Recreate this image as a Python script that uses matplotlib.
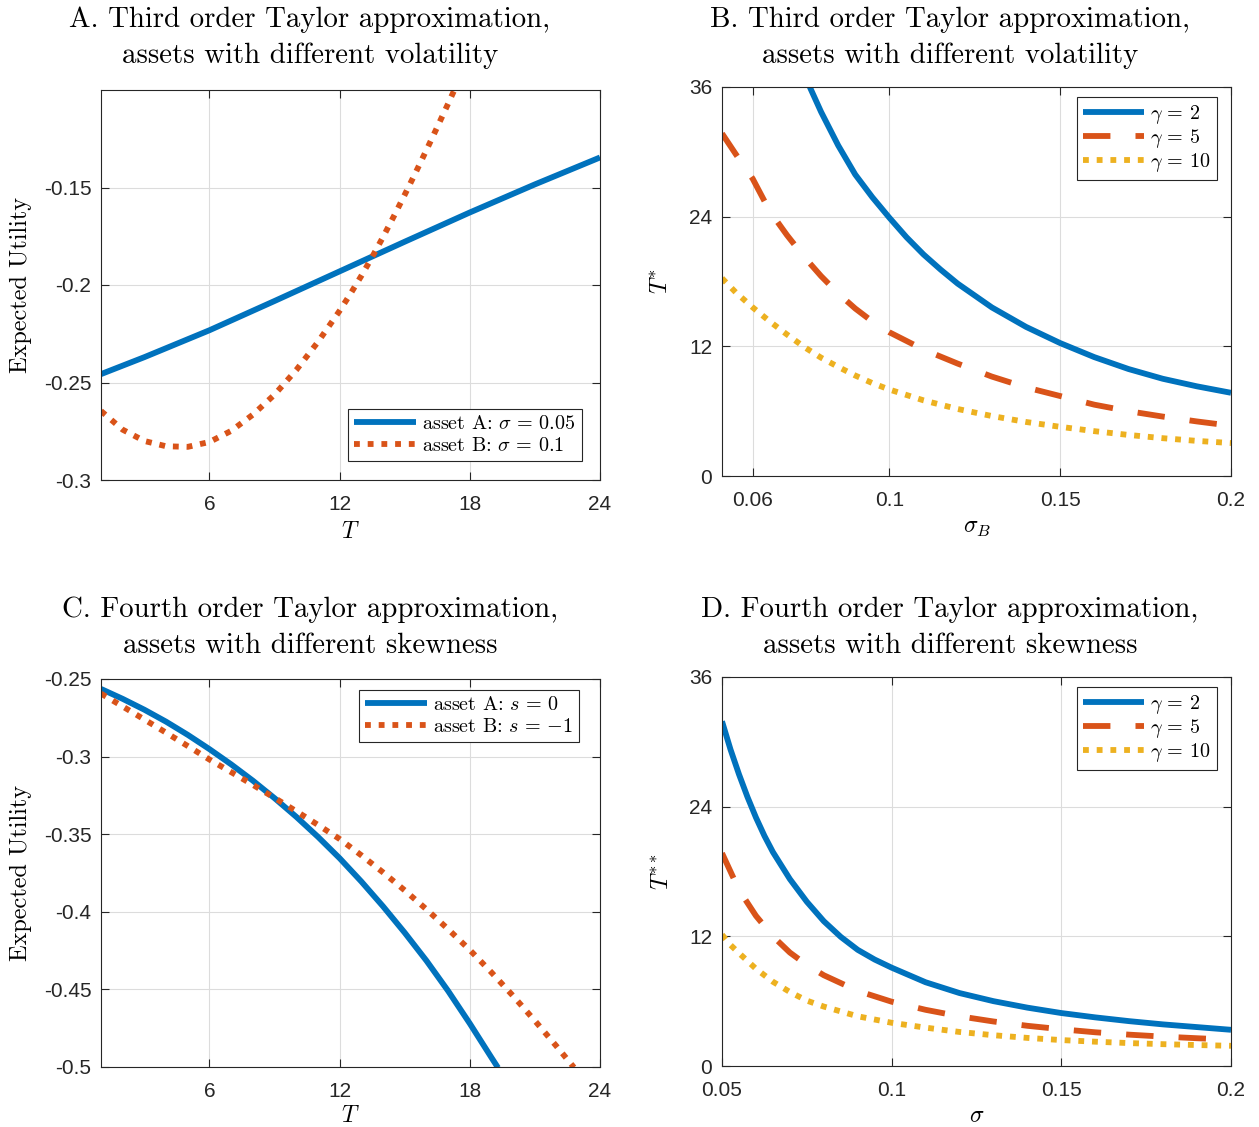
import matplotlib
matplotlib.use("Agg")
import matplotlib.pyplot as plt

plt.rcParams['mathtext.fontset'] = 'cm'
plt.rcParams['axes.unicode_minus'] = False
plt.rcParams['font.family'] = ['Liberation Sans', 'DejaVu Sans']

BLUE = '#0072BD'
RED = '#D95319'
YEL = '#EDB120'

# Panel A: third order approximation, expected utility vs T
a_T_A = [1, 3, 6, 9, 12, 15, 18, 21, 24]
a_EU_A = [-0.2457, -0.2370, -0.2232, -0.2082, -0.1930, -0.1778, -0.1628, -0.1484, -0.1346]
a_T_B = [1, 2, 3, 4, 5, 6, 7, 8, 9, 10, 11, 12, 12.5, 13, 13.5, 14, 14.5, 15, 15.5,
         16, 16.5, 17, 17.5]
a_EU_B = [-0.2646, -0.2742, -0.2800, -0.2827, -0.2830, -0.2805, -0.2748, -0.2665,
          -0.2562, -0.2436, -0.2292, -0.2132, -0.2045, -0.1953, -0.1856, -0.1754,
          -0.1647, -0.1537, -0.1424, -0.1308, -0.1190, -0.1070, -0.0948]

# Panel B: T* vs sigma_B
b_s_g2 = [0.0767, 0.08, 0.085, 0.09, 0.095, 0.1, 0.105, 0.11, 0.115, 0.12, 0.13, 0.14,
          0.15, 0.16, 0.17, 0.18, 0.19, 0.2]
b_T_g2 = [36.0, 33.7, 30.6, 27.9, 25.8, 23.9, 22.1, 20.5, 19.1, 17.8, 15.6, 13.8,
          12.3, 11.0, 9.9, 9.0, 8.3, 7.7]
b_s_g5 = [0.051, 0.055, 0.06, 0.065, 0.07, 0.075, 0.08, 0.085, 0.09, 0.095, 0.1, 0.11,
          0.12, 0.13, 0.14, 0.15, 0.16, 0.17, 0.18, 0.19, 0.2]
b_T_g5 = [31.7, 29.8, 27.5, 24.5, 22.3, 20.3, 18.5, 16.9, 15.5, 14.3, 13.3, 11.7,
          10.4, 9.2, 8.2, 7.4, 6.6, 6.0, 5.5, 5.05, 4.65]
b_s_g10 = [0.051, 0.055, 0.06, 0.065, 0.07, 0.075, 0.08, 0.085, 0.09, 0.095, 0.1, 0.11,
           0.12, 0.13, 0.14, 0.15, 0.16, 0.17, 0.18, 0.19, 0.2]
b_T_g10 = [18.3, 17.0, 15.6, 14.3, 13.1, 11.95, 10.95, 10.1, 9.3, 8.6, 8.0, 7.0,
           6.2, 5.55, 5.0, 4.55, 4.15, 3.8, 3.5, 3.25, 3.05]

# Panel C: fourth order approximation, expected utility vs T
c_T_A = [1, 2, 3, 4, 5, 6, 7, 8, 9, 10, 11, 12, 13, 14, 15, 16, 17, 18, 19, 19.3]
c_EU_A = [-0.2564, -0.2628, -0.2698, -0.2775, -0.2860, -0.2952, -0.3050, -0.3155,
          -0.3268, -0.3388, -0.3517, -0.3655, -0.3805, -0.3965, -0.4135, -0.4315,
          -0.4510, -0.4720, -0.4940, -0.5005]
c_T_B = [1, 2, 3, 4, 5, 6, 7, 8, 9, 10, 11, 12, 13, 14, 15, 16, 17, 18, 19, 20, 21,
         22, 22.8]
c_EU_B = [-0.2594, -0.2677, -0.2761, -0.2846, -0.2932, -0.3019, -0.3100, -0.3182,
          -0.3266, -0.3352, -0.3440, -0.3531, -0.3636, -0.3746, -0.3862, -0.3984,
          -0.4112, -0.4246, -0.4391, -0.4543, -0.4702, -0.4867, -0.5003]

# Panel D: T** vs sigma
d_s_g2 = [0.05, 0.0525, 0.055, 0.0575, 0.06, 0.0625, 0.065, 0.07, 0.075, 0.08, 0.085,
          0.09, 0.095, 0.1, 0.11, 0.12, 0.13, 0.14, 0.15, 0.16, 0.17, 0.18, 0.19, 0.2]
d_T_g2 = [31.9, 29.3, 27.0, 24.9, 23.0, 21.3, 19.8, 17.3, 15.2, 13.4, 11.95,
          10.75, 9.85, 9.1, 7.75, 6.75, 6.0, 5.4, 4.9, 4.5, 4.15, 3.85, 3.6, 3.35]
d_s_g5 = [0.05, 0.0525, 0.055, 0.06, 0.065, 0.07, 0.075, 0.08, 0.09, 0.1, 0.11, 0.12,
          0.13, 0.14, 0.15, 0.16, 0.17, 0.18, 0.19, 0.2]
d_T_g5 = [19.7, 18.0, 16.3, 13.9, 12.0, 10.5, 9.35, 8.4, 6.95, 5.95, 5.2, 4.6,
          4.12, 3.72, 3.4, 3.12, 2.9, 2.72, 2.57, 2.43]
d_s_g10 = [0.05, 0.0525, 0.055, 0.06, 0.065, 0.07, 0.075, 0.08, 0.09, 0.1, 0.11, 0.12,
           0.13, 0.14, 0.15, 0.16, 0.17, 0.18, 0.19, 0.2]
d_T_g10 = [12.15, 11.2, 10.45, 9.0, 7.8, 6.85, 6.05, 5.5, 4.6, 4.0, 3.55, 3.15,
           2.85, 2.6, 2.4, 2.25, 2.12, 2.02, 1.94, 1.87]

W, H = 1259, 1127
fig = plt.figure(figsize=(W / 100, H / 100), dpi=100)


def make_ax(l, r, t, b):
    return fig.add_axes([l / W, 1 - b / H, (r - l) / W, (b - t) / H])


axA = make_ax(101, 600, 90, 480)
axB = make_ax(722, 1231, 87, 476)
axC = make_ax(101, 600, 679, 1067)
axD = make_ax(722, 1231, 677, 1066)

LW = 4.2
DOT = (0, (1.0, 1.35))
DASH = (0, (4.7, 4.3))
serif = 'cmr10'


def style(ax):
    ax.grid(True, color='#dcdcdc', linewidth=0.8)
    ax.set_axisbelow(True)
    ax.tick_params(direction='in', top=True, right=True, length=6, width=0.8,
                   labelsize=15, colors='#262626')
    ax.tick_params(axis='x', pad=11)
    ax.tick_params(axis='y', pad=7)
    for s in ax.spines.values():
        s.set_color('#262626')
        s.set_linewidth(0.8)


def leg(ax, loc, anchor, spacing=0.2):
    lg = ax.legend(loc=loc, bbox_to_anchor=anchor, frameon=True, fancybox=False,
                   edgecolor='#262626', framealpha=1, prop={'family': serif, 'size': 14.5},
                   handlelength=3.05, handletextpad=0.3, borderpad=0.3, labelspacing=spacing,
                   borderaxespad=0)
    lg.get_frame().set_linewidth(0.8)


def title(xc, y1, l1, l2):
    fig.text(xc / W, 1 - y1 / H, l1, ha='center', va='center', fontfamily=serif, fontsize=20.8)
    fig.text(xc / W, 1 - (y1 + 36) / H, l2, ha='center', va='center', fontfamily=serif,
             fontsize=20.8)


# ---- A
style(axA)
axA.plot(a_T_A, a_EU_A, color=BLUE, lw=LW, solid_capstyle='butt',
         label=r'asset A: $\sigma\,=\,0.05$')
axA.plot(a_T_B, a_EU_B, color=RED, lw=LW, ls=DOT, dash_capstyle='butt',
         label=r'asset B: $\sigma\,=\,0.1$')
axA.set_xlim(1, 24)
axA.set_ylim(-0.3, -0.1)
axA.set_xticks([6, 12, 18, 24])
axA.set_yticks([-0.3, -0.25, -0.2, -0.15])
axA.set_yticklabels(['-0.3', '-0.25', '-0.2', '-0.15'])
axA.set_xlabel(r'$T$', fontsize=17)
axA.xaxis.set_label_coords(0.5, -0.105)
axA.set_ylabel('Expected Utility', fontfamily=serif, fontsize=17.5)
axA.yaxis.set_label_coords(-0.138, 0.5)
title(310, 20, 'A. Third order Taylor approximation,', 'assets with different volatility')
leg(axA, 'lower right', (0.963, 0.048))

# ---- B
style(axB)
axB.plot(b_s_g2, b_T_g2, color=BLUE, lw=LW, solid_capstyle='butt', label=r'$\gamma\,=\,2$')
axB.plot(b_s_g5, b_T_g5, color=RED, lw=LW, ls=DASH, dash_capstyle='butt', label=r'$\gamma\,=\,5$')
axB.plot(b_s_g10, b_T_g10, color=YEL, lw=LW, ls=DOT, dash_capstyle='butt',
         label=r'$\gamma\,=\,10$')
axB.set_xlim(0.051, 0.2)
axB.set_ylim(0, 36)
axB.set_xticks([0.06, 0.1, 0.15, 0.2])
axB.set_xticklabels(['0.06', '0.1', '0.15', '0.2'])
axB.set_yticks([0, 12, 24, 36])
axB.set_xlabel(r'$\sigma_B$', fontsize=17)
axB.xaxis.set_label_coords(0.5, -0.105)
axB.set_ylabel(r'$T^{*}$', fontsize=17)
axB.yaxis.set_label_coords(-0.098, 0.5)
title(950, 20, 'B. Third order Taylor approximation,', 'assets with different volatility')
leg(axB, 'upper right', (0.972, 0.974), spacing=0.05)

# ---- C
style(axC)
axC.plot(c_T_A, c_EU_A, color=BLUE, lw=LW, solid_capstyle='butt', label=r'asset A: $s\,=\,0$')
axC.plot(c_T_B, c_EU_B, color=RED, lw=LW, ls=DOT, dash_capstyle='butt',
         label=r'asset B: $s\,=\,{-1}$')
axC.set_xlim(1, 24)
axC.set_ylim(-0.5, -0.25)
axC.set_xticks([6, 12, 18, 24])
axC.set_yticks([-0.5, -0.45, -0.4, -0.35, -0.3, -0.25])
axC.set_yticklabels(['-0.5', '-0.45', '-0.4', '-0.35', '-0.3', '-0.25'])
axC.set_xlabel(r'$T$', fontsize=17)
axC.xaxis.set_label_coords(0.5, -0.098)
axC.set_ylabel('Expected Utility', fontfamily=serif, fontsize=17.5)
axC.yaxis.set_label_coords(-0.138, 0.5)
title(310, 610, 'C. Fourth order Taylor approximation,', 'assets with different skewness')
leg(axC, 'upper right', (0.958, 0.972))

# ---- D
style(axD)
axD.plot(d_s_g2, d_T_g2, color=BLUE, lw=LW, solid_capstyle='butt', label=r'$\gamma\,=\,2$')
axD.plot(d_s_g5, d_T_g5, color=RED, lw=LW, ls=DASH, dash_capstyle='butt', label=r'$\gamma\,=\,5$')
axD.plot(d_s_g10, d_T_g10, color=YEL, lw=LW, ls=DOT, dash_capstyle='butt',
         label=r'$\gamma\,=\,10$')
axD.set_xlim(0.05, 0.2)
axD.set_ylim(0, 36)
axD.set_xticks([0.05, 0.1, 0.15, 0.2])
axD.set_xticklabels(['0.05', '0.1', '0.15', '0.2'])
axD.set_yticks([0, 12, 24, 36])
axD.set_xlabel(r'$\sigma$', fontsize=17)
axD.xaxis.set_label_coords(0.5, -0.1)
axD.set_ylabel(r'$T^{**}$', fontsize=17)
axD.yaxis.set_label_coords(-0.096, 0.5)
title(950, 610, 'D. Fourth order Taylor approximation,', 'assets with different skewness')
leg(axD, 'upper right', (0.972, 0.974), spacing=0.05)

fig.savefig('out.png', dpi=100)
